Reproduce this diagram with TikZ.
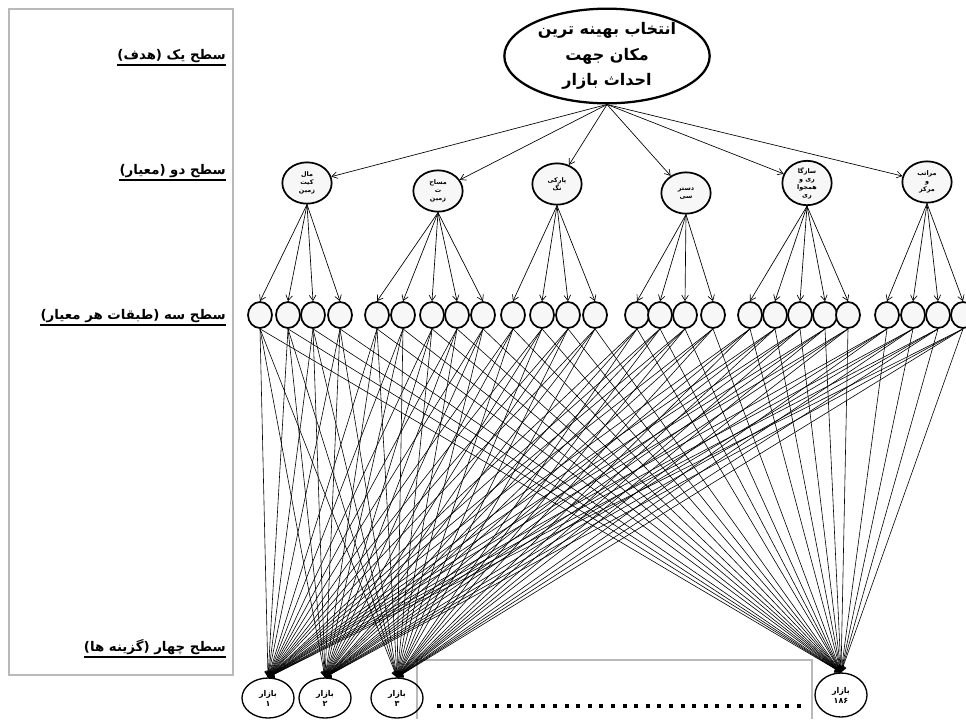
\documentclass[tikz,border=0pt]{standalone}
\usepackage{fontspec}
\newfontfamily\fa[Script=Arabic]{DejaVu Sans}
\TeXXeTstate=1
\usetikzlibrary{shapes.geometric,arrows.meta}

\begin{document}
\begin{tikzpicture}[x=0.75pt,y=-0.75pt,>={Straight Barb[length=4pt,width=5pt]}]
	\tikzstyle{every node}=[align=center,font=\fa\bfseries]
	\tikzstyle{goal}=[ellipse,draw,line width=1.7pt,minimum width=154pt,minimum height=71pt,inner sep=0pt,font=\fa\bfseries\fontsize{12}{19}\selectfont]
	\tikzstyle{crit}=[ellipse,draw,line width=1.3pt,fill=gray!6,minimum width=37pt,minimum height=31pt,inner sep=0pt,font=\fa\bfseries\fontsize{4.8}{6}\selectfont]
	\tikzstyle{sub}=[ellipse,draw,line width=1.3pt,fill=gray!6,minimum width=18pt,minimum height=19.5pt,inner sep=0pt]
	\tikzstyle{alt}=[ellipse,draw,line width=1pt,minimum width=39pt,minimum height=30pt,inner sep=0pt,font=\fa\bfseries\fontsize{6}{7.5}\selectfont]
	\tikzstyle{lvl}=[anchor=south east,inner sep=0pt,font=\fa\bfseries\fontsize{10}{13}\selectfont]
	\tikzstyle{link}=[->,line width=0.5pt]
	\tikzstyle{frame}=[draw=gray!55,line width=0.8pt]
	\useasboundingbox (0,0) rectangle (966,719);
	\draw[frame] (9,9) rectangle (233,675);
	\draw[frame] (417,719) |- (812,660) -- (812,719);
	\draw[line width=3pt,dash pattern=on 3pt off 5.7pt] (437,706) -- (808,706);
	\node[lvl] (l1) at (226,63) {\beginR سطح یک (هدف)\endR};
	\node[lvl] (l2) at (226,178) {\beginR سطح دو (معیار)\endR};
	\node[lvl] (l3) at (226,323) {\beginR سطح سه (طبقات هر معیار)\endR};
	\node[lvl] (l4) at (226,655) {\beginR سطح چهار (گزینه ها)\endR};
	\foreach \n in {l1,l2,l3,l4}
		\draw[line width=0.9pt] ([yshift=-1.5pt]\n.south west) -- ([yshift=-1.5pt]\n.south east);
	\node[goal] (goal) at (607,56) {\beginR انتخاب بهینه ترین\endR\\\beginR مکان جهت\endR\\\beginR احداث بازار\endR};
	\node[crit] (c1) at (307,183) {\beginR مال\endR\\\beginR کیت\endR\\\beginR زمین\endR};
	\node[crit] (c2) at (438,191) {\beginR مساح\endR\\\beginR ت\endR\\\beginR زمین\endR};
	\node[crit] (c3) at (557,184) {\beginR پارکی\endR\\\beginR نگ\endR};
	\node[crit] (c4) at (686,193) {\beginR دستر\endR\\\beginR سی\endR};
	\node[crit] (c5) at (807,183) {\beginR سازگا\endR\\\beginR ری و\endR\\\beginR همجوا\endR\\\beginR ری\endR};
	\node[crit] (c6) at (927,182) {\beginR مراتب\endR\\\beginR و\endR\\\beginR مرکز\endR};
	\foreach \x [count=\i] in {260,288,313,340,377,403,432,457,483,513,542,568,595,637,660,685,713,750,775,800,825,848,887,913,938,963}
		\node[sub] (s\i) at (\x,315) {};
	\node[alt] (m1) at (268,698) {\beginR بازار\endR\\۱};
	\node[alt] (m2) at (325,698) {\beginR بازار\endR\\۲};
	\node[alt] (m3) at (397,698) {\beginR بازار\endR\\۳};
	\node[alt,minimum height=33pt] (m4) at (841,695) {\beginR بازار\endR\\۱۸۶};
	\foreach \c in {1,...,6}
		\draw[link] (goal.south) -- (c\c);
	\foreach \c/\a/\b in {1/1/4,2/5/9,3/10/13,4/14/17,5/18/22,6/23/26}
		\foreach \i in {\a,...,\b}
			\draw[link] (c\c.south) -- (s\i.north);
	\foreach \i in {1,...,26}
		\foreach \m in {1,...,4}
			\draw[link,line width=0.45pt] (s\i.south) -- (m\m.north);
\end{tikzpicture}
\end{document}
